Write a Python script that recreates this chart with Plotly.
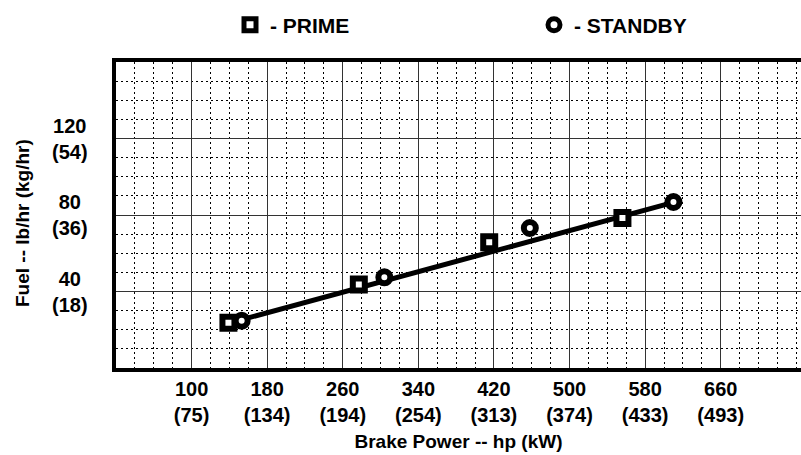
import plotly.graph_objects as go

# ---- data ----
prime_hp = [139, 277, 415, 556]
prime_fuel = [23.7, 43.7, 65.8, 78.4]
standby_hp = [153, 304, 458, 610]
standby_fuel = [24.7, 47.4, 73.2, 86.8]
fit_hp = [139, 610]
fit_fuel = [23.4, 86.6]

x_tick_vals = [100, 180, 260, 340, 420, 500, 580, 660]
x_tick_hp = ["100", "180", "260", "340", "420", "500", "580", "660"]
x_tick_kw = ["(75)", "(134)", "(194)", "(254)", "(313)", "(374)", "(433)", "(493)"]
y_tick_vals = [40, 80, 120]
y_tick_lb = ["40", "80", "120"]
y_tick_kg = ["(18)", "(36)", "(54)"]

FONT = "Liberation Sans, Arial, sans-serif"
W, H = 801, 455
ML, MR, MT, MB = 116, 0, 62, 87
PW, PH = W - ML - MR, H - MT - MB

fig = go.Figure()
fig.add_trace(go.Scatter(x=fit_hp, y=fit_fuel, mode="lines",
                         line=dict(color="black", width=5), showlegend=False,
                         hoverinfo="skip"))
fig.add_trace(go.Scatter(x=prime_hp, y=prime_fuel, mode="markers", name="- PRIME",
                         marker=dict(symbol="square", size=12, color="white",
                                     line=dict(color="black", width=6)),
                         legend="legend"))
fig.add_trace(go.Scatter(x=standby_hp, y=standby_fuel, mode="markers", name="- STANDBY",
                         marker=dict(symbol="circle", size=12, color="white",
                                     line=dict(color="black", width=6)),
                         legend="legend2"))

bold = dict(family=FONT, size=19, color="black", weight="bold")
tickf = dict(family=FONT, size=20, color="black", weight="bold")
legf = dict(family=FONT, size=21, color="black", weight="bold")
annotations = []
for v, a, b in zip(y_tick_vals, y_tick_lb, y_tick_kg):
    annotations.append(dict(x=(70 - ML) / PW, xref="paper", y=v, yref="y",
                            text=f"{a}<br>{b}", showarrow=False, align="center",
                            xanchor="center", yanchor="middle", font=tickf))
annotations.append(dict(x=(22 - ML) / PW, xref="paper", y=(H - MB - 223) / PH, yref="paper",
                        text="Fuel -- lb/hr (kg/hr)", showarrow=False, textangle=-90,
                        xanchor="center", yanchor="middle", font=bold))

fig.update_layout(
    width=W, height=H,
    paper_bgcolor="white", plot_bgcolor="white",
    margin=dict(l=ML, r=MR, t=MT, b=MB, autoexpand=False),
    font=bold,
    xaxis=dict(range=[20, 745], tickvals=x_tick_vals,
               ticktext=[f"{a}<br>{b}" for a, b in zip(x_tick_hp, x_tick_kw)],
               tickangle=0, automargin=False,
               showgrid=True, gridcolor="#333", gridwidth=1,
               showline=True, linecolor="black", linewidth=4, mirror=True,
               ticks="", tickfont=tickf,
               minor=dict(dtick=20, tick0=20, showgrid=True, gridcolor="black",
                          gridwidth=1, griddash="2px,3px"),
               title=dict(text="Brake Power -- hp (kW)", standoff=11, font=bold),
               zeroline=False, fixedrange=True),
    yaxis=dict(range=[0, 160], tickvals=y_tick_vals, showticklabels=False,
               automargin=False,
               showgrid=True, gridcolor="#333", gridwidth=1,
               showline=True, linecolor="black", linewidth=4, mirror=False,
               ticks="",
               minor=dict(dtick=10, tick0=0, showgrid=True, gridcolor="black",
                          gridwidth=1, griddash="2px,3px"),
               zeroline=False, fixedrange=True),
    legend=dict(xref="container", yref="container", x=230 / W, y=1 - 25 / H,
                xanchor="left", yanchor="middle", bgcolor="rgba(0,0,0,0)",
                font=legf),
    legend2=dict(xref="container", yref="container", x=534 / W, y=1 - 25 / H,
                 xanchor="left", yanchor="middle", bgcolor="rgba(0,0,0,0)",
                 font=legf),
    annotations=annotations,
)

fig.write_html("out.html", config={"displayModeBar": False},
               post_script="document.body.style.margin='0';document.body.style.overflow='hidden';")
